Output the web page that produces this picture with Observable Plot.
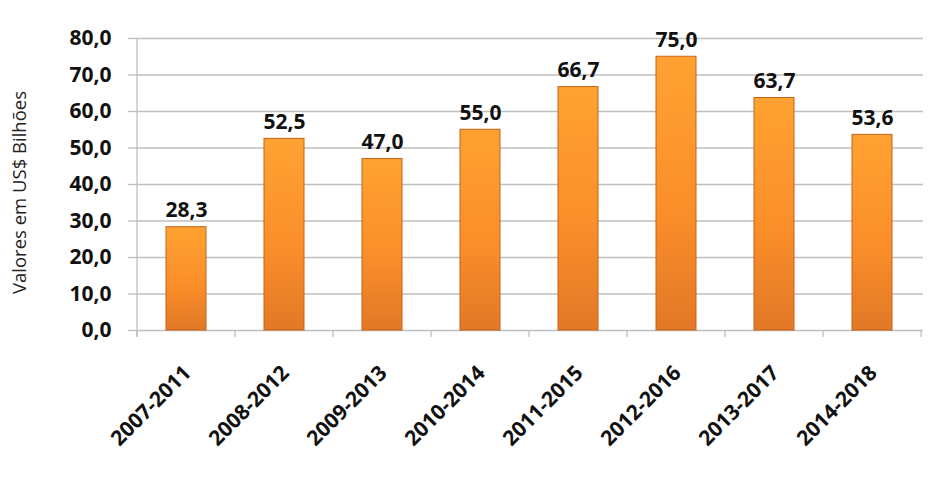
<!DOCTYPE html>
<html>
<head>
<meta charset="utf-8">
<script src="https://cdn.jsdelivr.net/npm/d3@7"></script>
<script src="https://cdn.jsdelivr.net/npm/@observablehq/plot@0.6"></script>
<style>
  html, body { margin: 0; padding: 0; background: #fff; }
  #chart svg { display: block; }
</style>
</head>
<body>
<div id="chart"></div>
<script>
const periods = ["2007-2011", "2008-2012", "2009-2013", "2010-2014", "2011-2015", "2012-2016", "2013-2017", "2014-2018"];
const values = [28.3, 52.5, 47.0, 55.0, 66.7, 75.0, 63.7, 53.6];
const yTicks = [0, 10, 20, 30, 40, 50, 60, 70, 80];
const yTitle = "Valores em US$ Bilhões";

const data = periods.map((p, i) => ({period: p, value: values[i]}));
const fmt = v => v.toFixed(1).replace(".", ",");
const FONT = "'Open Sans', 'DejaVu Sans', sans-serif";
const GRID = "#bfbfbf";

// boundary ticks + y axis line, drawn from the scales
function frameLines(index, scales, values, dims) {
  const g = d3.create("svg:g");
  const x = scales.x, y = scales.y;
  const desc = scales.scales && scales.scales.x;
  const step = x(periods[1]) - x(periods[0]);
  const bw = desc && desc.bandwidth != null ? desc.bandwidth : step * 0.406;
  const bounds = periods.map(p => x(p) + bw / 2 - step / 2);
  bounds.push(x(periods[periods.length - 1]) + bw / 2 + step / 2);
  const y0 = y(0);
  for (const b of bounds) {
    g.append("line").attr("x1", b).attr("x2", b).attr("y1", y0).attr("y2", y0 + 7)
      .attr("stroke", GRID).attr("stroke-width", 1.3);
  }
  g.append("line").attr("x1", bounds[0]).attr("x2", bounds[0])
    .attr("y1", y(80)).attr("y2", y0 + 7).attr("stroke", GRID).attr("stroke-width", 1.3);
  return g.node();
}

const chart = Plot.plot({
  width: 942,
  height: 478,
  marginLeft: 135,
  marginRight: 19,
  marginTop: 38,
  marginBottom: 148,
  style: {fontFamily: FONT, background: "#fff", overflow: "visible"},
  x: {domain: periods, paddingInner: 0.594, paddingOuter: 0.297, label: null, axis: null},
  y: {domain: [0, 80], label: null},
  marks: [
    Plot.gridY(yTicks, {stroke: GRID, strokeOpacity: 1, strokeWidth: 1.3}),
    Plot.axisY(yTicks, {
      tickSize: 7, tickPadding: 17, stroke: GRID, strokeOpacity: 1, strokeWidth: 1.3,
      tickFormat: fmt, fontSize: 21, fontWeight: "bold", fill: "#111", label: null
    }),
    frameLines,
    Plot.barY(data, {
      x: "period", y: "value",
      fill: "url(#barGrad)", stroke: "#c4651c", strokeWidth: 1
    }),
    Plot.text(data, {
      x: "period", y: "value", text: d => fmt(d.value),
      lineAnchor: "bottom", dy: -10, fontSize: 21, fontWeight: "bold", fill: "#111"
    }),
    Plot.text(data, {
      x: "period", text: "period", frameAnchor: "bottom",
      rotate: -45, textAnchor: "end", lineAnchor: "middle",
      dx: 1, dy: 39, fontSize: 21, fontWeight: "bold", fill: "#111"
    }),
    Plot.text([yTitle], {
      text: d => d, frameAnchor: "left", textAnchor: "middle", rotate: -90,
      dx: -115, dy: 8, fontSize: 18.5, fill: "#222"
    })
  ]
});

const defs = d3.create("svg:defs");
const grad = defs.append("linearGradient").attr("id", "barGrad")
  .attr("x1", 0).attr("y1", 0).attr("x2", 0).attr("y2", 1);
grad.append("stop").attr("offset", "0%").attr("stop-color", "#ffa232");
grad.append("stop").attr("offset", "55%").attr("stop-color", "#fb8f2a");
grad.append("stop").attr("offset", "100%").attr("stop-color", "#e27826");
chart.insertBefore(defs.node(), chart.firstChild);

document.getElementById("chart").appendChild(chart);
</script>
</body>
</html>
